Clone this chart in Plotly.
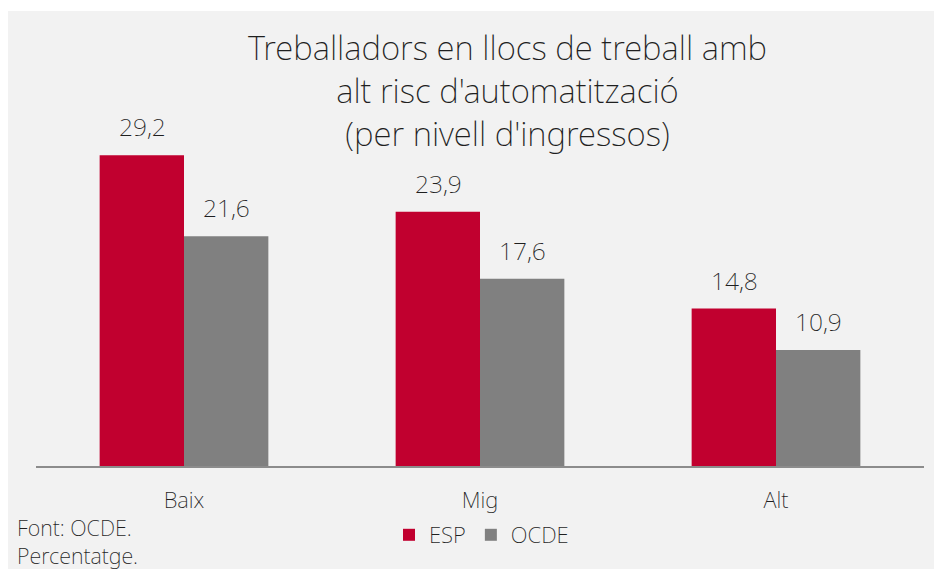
import plotly.graph_objects as go

categories = ["Baix", "Mig", "Alt"]
esp_values = [29.2, 23.9, 14.8]
ocde_values = [21.6, 17.6, 10.9]
series_names = ["ESP", "OCDE"]
title_lines = ["Treballadors en llocs de treball amb", "alt risc d'automatització", "(per nivell d'ingressos)"]
note_lines = ["Font: OCDE.", "Percentatge."]

W, H = 942, 569
L, R, T, B = 28, 26, 112, 111
PW, PH = W - L - R, H - T - B
FONT = "Noto Sans"
TXT = "#1f1f1f"


def px_x(X):
    return (X - L) / PW


def px_y(Y):
    return (H - B - Y) / PH


ymax = PH / 10.64

fig = go.Figure()
fig.add_trace(go.Bar(x=categories, y=esp_values, name=series_names[0], marker=dict(color="#C1002F", line=dict(width=0))))
fig.add_trace(go.Bar(x=categories, y=ocde_values, name=series_names[1], marker=dict(color="#808080", line=dict(width=0))))

# value labels
for vals, shift in ((esp_values, -42), (ocde_values, 42)):
    for c, v in zip(categories, vals):
        fig.add_annotation(x=c, y=v, xref="x", yref="y", xshift=shift, yshift=10,
                           yanchor="bottom", xanchor="center", showarrow=False,
                           text=f"{v:.1f}".replace(".", ","),
                           font=dict(family=FONT, weight=200, size=24.5, color=TXT))

# source / unit note
fig.add_annotation(x=px_x(7), y=px_y(533), xref="paper", yref="paper", xanchor="left", yanchor="middle",
                   align="left", showarrow=False, text="<br>".join(note_lines),
                   font=dict(family=FONT, weight=200, size=21.5, color=TXT))

# panel background
fig.add_shape(type="rect", xref="paper", yref="paper", x0=px_x(-4), x1=px_x(W + 4), y0=px_y(H + 4), y1=px_y(3),
              fillcolor="#F2F2F2", line=dict(width=0), layer="below")

fig.update_layout(
    width=W, height=H,
    margin=dict(l=L, r=R, t=T, b=B),
    paper_bgcolor="white", plot_bgcolor="rgba(0,0,0,0)",
    barmode="group", bargap=0.43, bargroupgap=0,
    title=dict(text="<br>".join(title_lines), x=499.5 / W, xanchor="center", xref="container",
               y=1 - 52 / H, yanchor="top", yref="container",
               font=dict(family=FONT, weight=200, size=33, color=TXT)),
    xaxis=dict(showline=True, linecolor="#8C8C8C", linewidth=2, ticks="", showgrid=False,
               tickfont=dict(family=FONT, weight=200, size=22, color=TXT), ticklabelstandoff=14),
    yaxis=dict(range=[0, ymax], visible=False, showgrid=False),
    legend=dict(orientation="h", x=px_x(473.5), xanchor="center", y=px_y(527), yanchor="middle",
                font=dict(family=FONT, weight=200, size=22, color=TXT), bgcolor="rgba(0,0,0,0)",
                itemwidth=30, traceorder="normal"),
    showlegend=True,
)
fig.write_html("out.html")
